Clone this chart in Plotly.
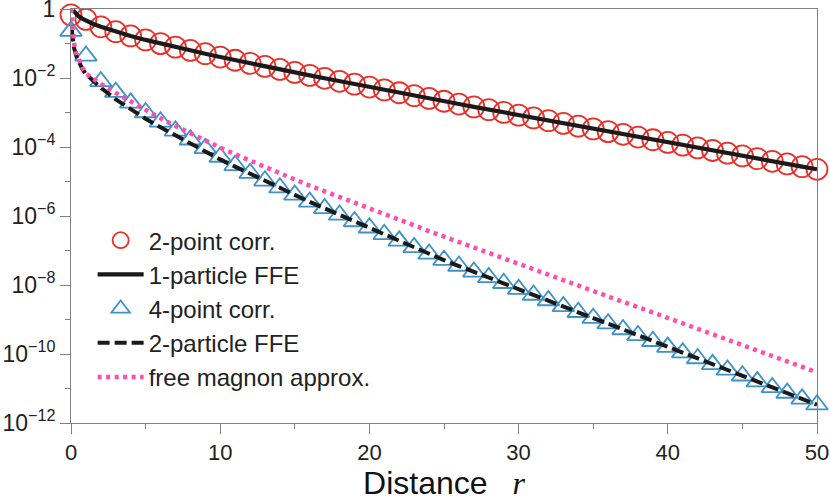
import plotly.graph_objects as go

# ---------------- data (log10 of the plotted values) ----------------
r_points = list(range(0, 51))

# 2-point correlation (red open circles), r = 0..50
corr2_log10 = [-0.17, -0.30, -0.516, -0.658, -0.781, -0.896, -1.002, -1.104, -1.202, -1.296,
               -1.393, -1.486, -1.576, -1.664, -1.752, -1.839, -1.925, -2.009, -2.095, -2.179,
               -2.262, -2.345, -2.428, -2.510, -2.592, -2.674, -2.755, -2.836, -2.916, -2.997,
               -3.077, -3.157, -3.236, -3.316, -3.395, -3.474, -3.553, -3.632, -3.711, -3.790,
               -3.868, -3.946, -4.024, -4.102, -4.180, -4.258, -4.336, -4.414, -4.491, -4.569,
               -4.646]

# 1-particle FFE (solid black line)
r_ffe1 = [0.15, 0.3, 0.5, 0.75, 1, 1.5, 2] + list(range(3, 51))
ffe1_log10 = [-0.04, -0.129, -0.205, -0.278, -0.335, -0.435, -0.516,
              -0.658, -0.781, -0.896, -1.002, -1.104, -1.202, -1.296,
              -1.393, -1.486, -1.576, -1.664, -1.752, -1.839, -1.925, -2.009, -2.095, -2.179,
              -2.262, -2.345, -2.428, -2.510, -2.592, -2.674, -2.755, -2.836, -2.916, -2.997,
              -3.077, -3.157, -3.236, -3.316, -3.395, -3.474, -3.553, -3.632, -3.711, -3.790,
              -3.868, -3.946, -4.024, -4.102, -4.180, -4.258, -4.336, -4.414, -4.491, -4.569,
              -4.646]

# 4-point correlation (blue open triangles), r = 0..50
corr4_log10 = [-0.64, -1.36, -2.10, -2.41, -2.72, -3.00, -3.27, -3.53, -3.79, -4.04,
               -4.29, -4.53, -4.76, -4.98, -5.18, -5.39, -5.59, -5.78, -5.97, -6.16,
               -6.34, -6.53, -6.72, -6.91, -7.10, -7.28, -7.45, -7.62, -7.78, -7.95,
               -8.12, -8.29, -8.45, -8.62, -8.79, -8.96, -9.12, -9.29, -9.46, -9.63,
               -9.80, -9.96, -10.13, -10.30, -10.46, -10.63, -10.80, -10.97, -11.13, -11.30,
               -11.47]

# 2-particle FFE (dashed black line)
r_ffe2 = [0.05, 0.1, 0.2, 0.35, 0.5, 0.75, 1, 1.5, 2] + list(range(3, 51))
ffe2_log10 = [-0.60, -0.88, -1.12, -1.36, -1.52, -1.73, -1.89, -2.08, -2.28,
              -2.62, -2.91, -3.18, -3.43, -3.67, -3.91, -4.14,
              -4.36, -4.57, -4.78, -4.98, -5.18, -5.39, -5.59, -5.78, -5.97, -6.16,
              -6.34, -6.53, -6.72, -6.91, -7.10, -7.28, -7.45, -7.62, -7.78, -7.95,
              -8.12, -8.29, -8.45, -8.62, -8.79, -8.96, -9.12, -9.29, -9.46, -9.63,
              -9.80, -9.96, -10.13, -10.30, -10.46, -10.63, -10.80, -10.97, -11.13, -11.30,
              -11.47]

# free magnon approximation (pink dotted line)
r_magnon = [0, 0.05, 0.1, 0.2, 0.35, 0.5, 0.75, 1, 1.5, 2] + list(range(3, 51))
magnon_log10 = [0.0, -0.35, -0.62, -0.98, -1.28, -1.46, -1.69, -1.87, -2.03, -2.17,
                -2.43, -2.68, -2.94, -3.17, -3.39, -3.61, -3.82,
                -4.02, -4.21, -4.40, -4.58, -4.76, -4.94, -5.12, -5.28, -5.45, -5.61,
                -5.76, -5.93, -6.10, -6.27, -6.44, -6.60, -6.76, -6.91, -7.07, -7.23,
                -7.39, -7.54, -7.70, -7.86, -8.01, -8.17, -8.33, -8.49, -8.64, -8.80,
                -8.96, -9.11, -9.27, -9.43, -9.59, -9.74, -9.90, -10.06, -10.21, -10.37,
                -10.53]

x_tickvals = [0, 10, 20, 30, 40, 50]
x_ticktext = ["0", "10", "20", "30", "40", "50"]
x_minor = [5, 15, 25, 35, 45]
y_tickvals = [1e-12, 1e-10, 1e-8, 1e-6, 1e-4, 1e-2, 1]
y_ticktext = ["10<sup>\u221212</sup>", "10<sup>\u221210</sup>", "10<sup>\u22128</sup>",
              "10<sup>\u22126</sup>", "10<sup>\u22124</sup>", "10<sup>\u22122</sup>", "1"]
y_minor = [1e-11, 1e-9, 1e-7, 1e-5, 1e-3, 1e-1]

def unlog(vals):
    return [10 ** v for v in vals]

RED = "#e8312a"
BLUE = "#3d92c8"
PINK = "#ff4fae"
BLACK = "#1a1a1a"
AXIS = "#808080"
FONT = "Liberation Sans, Arial, Helvetica, sans-serif"

fig = go.Figure()
fig.add_trace(go.Scatter(
    x=r_points, y=unlog(corr2_log10), mode="markers", name="2-point corr.",
    legendgroup="a", cliponaxis=False,
    marker=dict(symbol="circle-open", size=21, color=RED, line=dict(width=1.8))))
fig.add_trace(go.Scatter(
    x=r_ffe1, y=unlog(ffe1_log10), mode="lines", name="1-particle FFE",
    legendgroup="b", line=dict(color=BLACK, width=4.2)))
fig.add_trace(go.Scatter(
    x=r_points, y=unlog(corr4_log10), mode="markers", name="4-point corr.",
    legendgroup="c", cliponaxis=False,
    marker=dict(symbol="triangle-up-open", size=19, color=BLUE, line=dict(width=1.8))))
fig.add_trace(go.Scatter(
    x=r_ffe2, y=unlog(ffe2_log10), mode="lines", name="2-particle FFE",
    legendgroup="d", line=dict(color=BLACK, width=4, dash="12px,5px")))
fig.add_trace(go.Scatter(
    x=r_magnon, y=unlog(magnon_log10), mode="lines", name="free magnon approx.",
    legendgroup="e", line=dict(color=PINK, width=4.5, dash="4px,4.5px")))

fig.update_layout(
    width=830, height=501,
    margin=dict(l=71, r=13, t=9, b=78),
    paper_bgcolor="white", plot_bgcolor="white",
    font=dict(family=FONT, color="#222222"),
    showlegend=True,
    legend=dict(x=0.029, y=0.495, xanchor="left", yanchor="top",
                bgcolor="rgba(0,0,0,0)", font=dict(size=24, family=FONT, color="#222222"),
                tracegroupgap=0, itemsizing="trace", itemwidth=46),
    xaxis=dict(range=[0, 50], showline=True, linecolor=AXIS, linewidth=1, mirror=True,
               automargin=False,
               ticks="outside", ticklen=10, tickcolor=AXIS, tickwidth=1,
               tickmode="array", tickvals=x_tickvals, ticktext=x_ticktext,
               minor=dict(tickmode="array", tickvals=x_minor, ticks="outside", ticklen=5,
                          tickcolor=AXIS, tickwidth=1, showgrid=False),
               showgrid=False, zeroline=False,
               tickfont=dict(size=22, family=FONT, color="#222222"),
               title=dict(text="Distance\u2002 <span style=\"font-family:'Liberation Serif',serif\"><i>r</i></span>",
                          font=dict(size=32, family=FONT, color="#111111"), standoff=6)),
    yaxis=dict(type="log", range=[-12, 0], showline=True, linecolor=AXIS, linewidth=1, mirror=True,
               automargin=False, ticklabeloverflow="allow",
               ticks="outside", ticklen=10, tickcolor=AXIS, tickwidth=1,
               tickmode="array", tickvals=y_tickvals, ticktext=y_ticktext,
               minor=dict(tickmode="array", tickvals=y_minor, ticks="outside", ticklen=5,
                          tickcolor=AXIS, tickwidth=1, showgrid=False),
               showgrid=False, zeroline=False,
               tickfont=dict(size=23, family=FONT, color="#222222")),
)

fig.write_html("out.html", config={"displayModeBar": False},
               post_script="document.body.style.margin='0';document.body.style.padding='0';")
